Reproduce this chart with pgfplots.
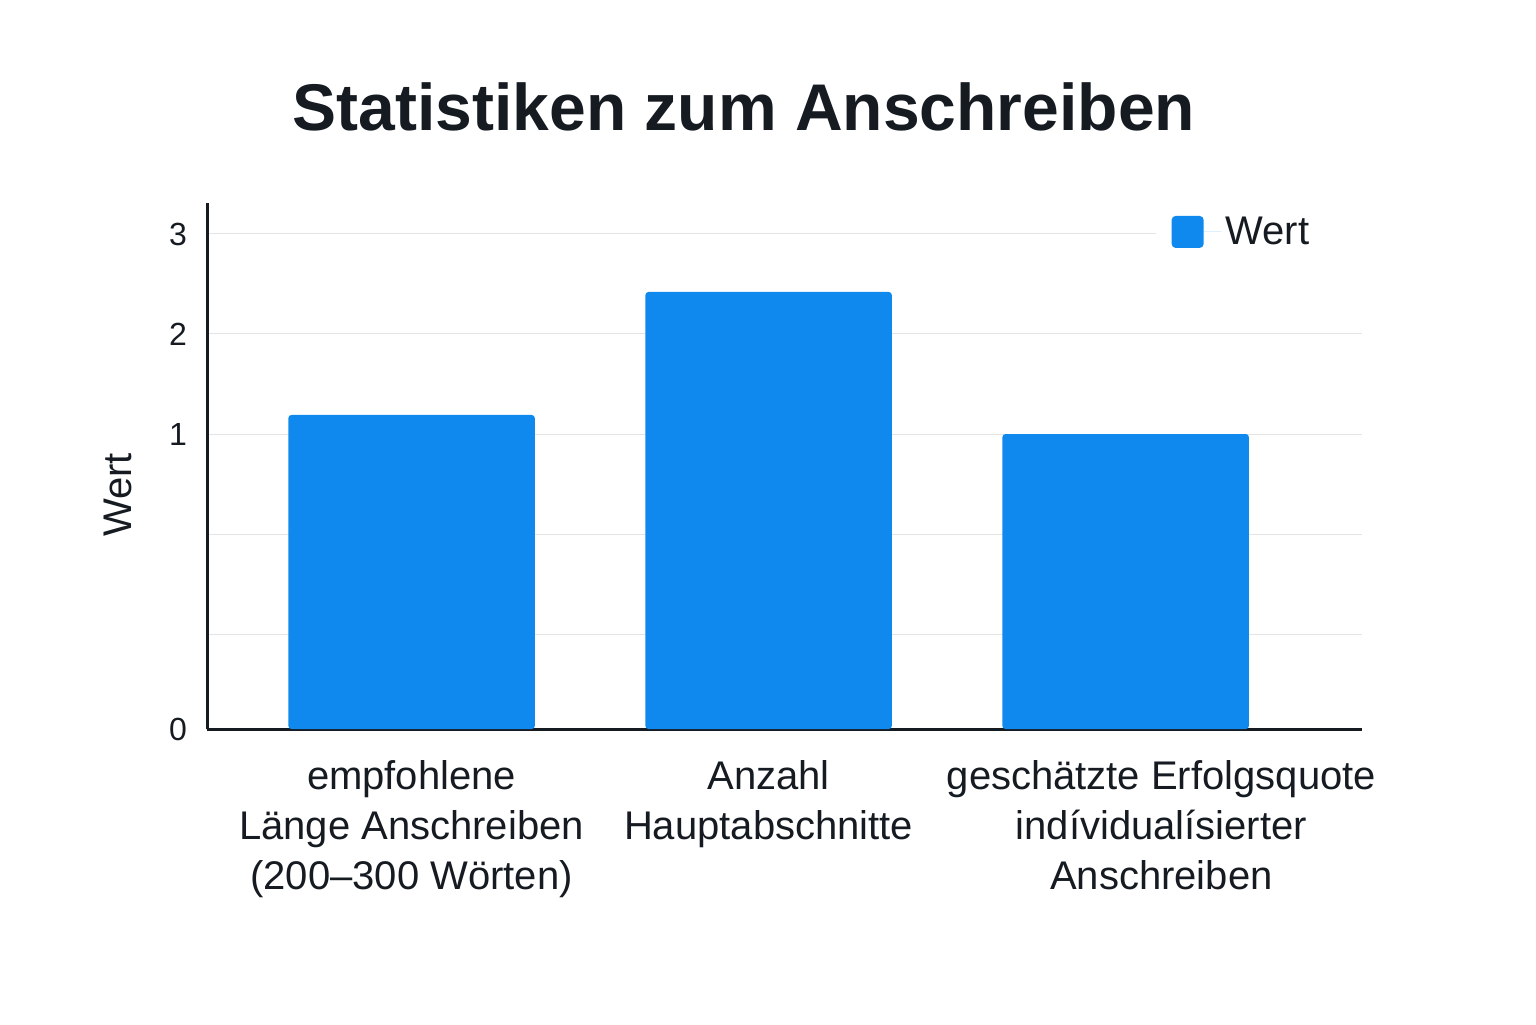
\documentclass[border=0pt]{standalone}
\usepackage{fontspec}
\setmainfont{Liberation Sans}
\usepackage{pgfplots}
\pgfplotsset{compat=1.18}
\definecolor{barblue}{HTML}{0F89EE}
\definecolor{ink}{HTML}{161B22}
\definecolor{gridgray}{HTML}{E4E4E4}
\begin{document}
\begin{tikzpicture}
\path[use as bounding box] (0,0) rectangle (768pt,512pt);
\node[anchor=base, font=\fontsize{33}{40}\selectfont\bfseries, text=ink]
  at (372pt,446.5pt) {Statistiken zum Anschreiben};
\begin{axis}[
  at={(103.5pt,147.5pt)}, anchor=south west,
  scale only axis, width=577.5pt, height=263pt,
  xmin=-0.573, xmax=2.662,
  ymin=0, ymax=3.31,
  % the value axis is stretched below 1, as in the original
  y coord trafo/.code={\pgfmathparse{ifthenelse(#1<1,2.95*#1,#1+1.95)}},
  y coord inv trafo/.code={\pgfmathparse{ifthenelse(#1<2.95,#1/2.95,#1-1.95)}},
  axis lines*=left,
  axis line style={-, line width=1.5pt, color=ink},
  ytick={0,0.322,0.661,1,2,3},
  yticklabels={0,{},{},1,2,3},
  xtick={0,1,2.1},
  xticklabels={{empfohlene\\Länge Anschreiben\\(200–300 Wörten)},
               {Anzahl\\Hauptabschnitte},
               {geschätzte Erfolgsquote\\indívidualísierter\\Anschreiben}},
  major tick length=0pt,
  tick style={draw=none},
  ymajorgrids,
  major grid style={gridgray, line width=0.5pt},
  /pgf/number format/assume math mode=true,
  yticklabel style={font=\fontsize{16}{19}\selectfont, text=ink, xshift=-6.5pt},
  xticklabel style={align=center, font=\fontsize{20}{25}\selectfont, text=ink, yshift=-12pt},
  ylabel={Wert},
  ylabel style={at={(axis description cs:-0.077,0.445)}, anchor=center,
                font=\fontsize{20}{24}\selectfont, text=ink},
  legend style={at={(0.821,0.945)}, anchor=west, draw=none, fill=white,
                inner xsep=8pt, inner ysep=3pt,
                font=\fontsize{20}{24}\selectfont, text=ink},
  legend cell align=left,
]
\addplot[ybar, bar width=0.69, fill=barblue, draw=none, rounded corners=1.5pt,
  legend image code/.code={\fill[barblue, rounded corners=2pt] (0pt,-8pt) rectangle (16pt,8pt);
                           \path (0pt,0pt) -- (25pt,0pt);}]
  coordinates {(0,1.19) (1,2.42) (2,1.0)};
\addlegendentry{Wert\hspace*{30pt}}
\end{axis}
\end{tikzpicture}
\end{document}
